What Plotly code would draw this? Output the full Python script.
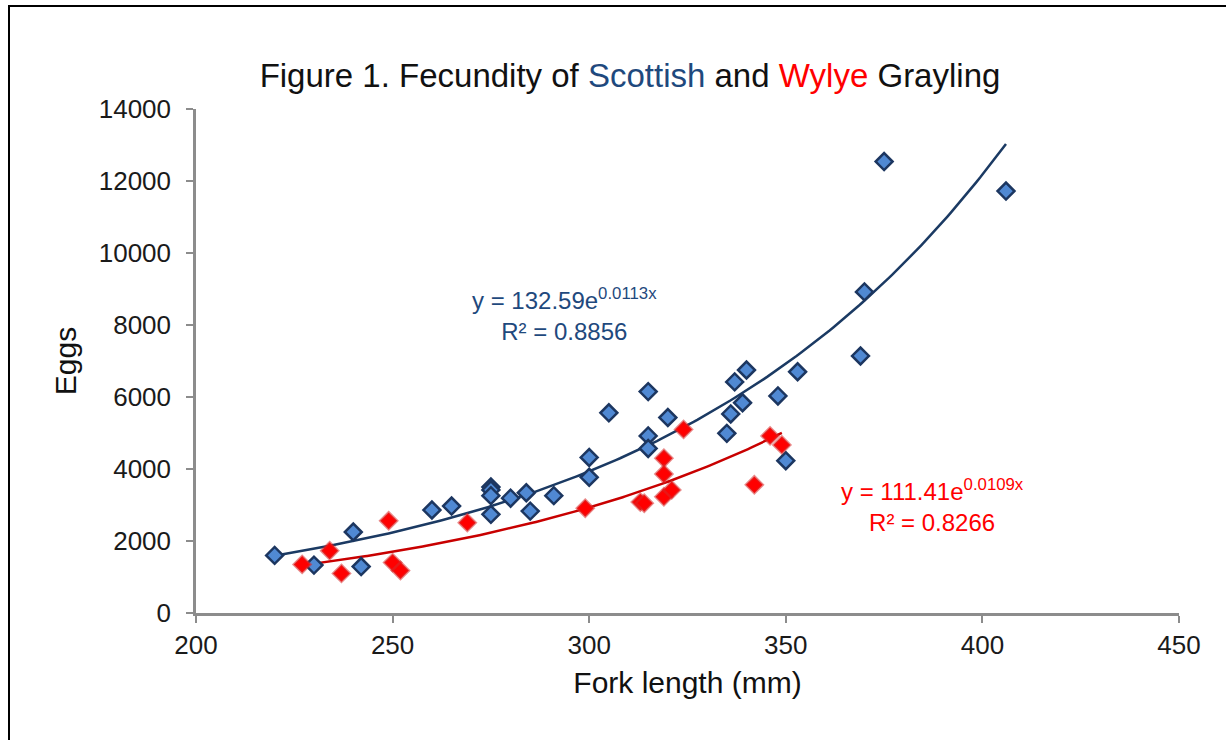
import numpy as np
import plotly.graph_objects as go

# ---- data ----
scot_len = [220, 230, 240, 242, 260, 265, 275, 275, 275, 275, 280, 284, 285, 291,
            300, 300, 305, 315, 315, 315, 320, 335, 336, 339, 337, 340, 348, 353,
            350, 369, 370, 375, 406]
scot_eggs = [1600, 1330, 2250, 1290, 2860, 2970, 3500, 3420, 3260, 2740, 3190, 3340,
             2830, 3260, 3770, 4320, 5560, 6150, 4920, 4570, 5430, 4990, 5530, 5840,
             6420, 6750, 6030, 6700, 4230, 7140, 8920, 12540, 11720]

wylye_len = [227, 234, 237, 249, 250, 252, 269, 299, 313, 314, 319, 319, 319, 321,
             324, 342, 346, 349]
wylye_eggs = [1350, 1730, 1100, 2560, 1400, 1180, 2510, 2910, 3080, 3050, 4300, 3860,
              3230, 3420, 5100, 3560, 4920, 4670]

# exponential trendline coefficients shown on the chart (y = a * e^(b x))
scot_fit = (132.59, 0.0113, 0.8856)
wylye_fit = (111.41, 0.0109, 0.8266)

x_ticks = [200, 250, 300, 350, 400, 450]
y_ticks = [0, 2000, 4000, 6000, 8000, 10000, 12000, 14000]
y_tick_text = ["0", "2000", "4000", "6000", "8000", "10000", "12000", "14000"]

FONT = "Liberation Sans, Arial, sans-serif"
BLUE_TXT = "#1F497D"
BLUE_LINE = "#1B3A63"
BLUE_FILL = "#5089D3"
BLUE_EDGE = "#1C3660"
RED = "#FF0000"
RED_LINE = "#C80000"

fig = go.Figure()

def trend(xs, a, b):
    xx = np.linspace(min(xs), max(xs), 200)
    return xx, a * np.exp(b * xx)

tx, ty = trend(scot_len, scot_fit[0], scot_fit[1])
fig.add_trace(go.Scatter(x=tx, y=ty, mode="lines",
                         line=dict(color=BLUE_LINE, width=2.5), hoverinfo="skip"))
tx2, ty2 = trend(wylye_len, wylye_fit[0], wylye_fit[1])
fig.add_trace(go.Scatter(x=tx2, y=ty2, mode="lines",
                         line=dict(color=RED_LINE, width=2.5), hoverinfo="skip"))

fig.add_trace(go.Scatter(x=scot_len, y=scot_eggs, mode="markers", name="Scottish",
                         marker=dict(symbol="diamond", size=13, color=BLUE_FILL,
                                     line=dict(color=BLUE_EDGE, width=2.5))))
fig.add_trace(go.Scatter(x=wylye_len, y=wylye_eggs, mode="markers", name="Wylye",
                         marker=dict(symbol="diamond", size=13, color=RED,
                                     line=dict(color="rgba(215,40,40,0.55)", width=2.5))))

axis_common = dict(showgrid=False, zeroline=False, showline=True,
                   linecolor="#8C8C8C", linewidth=2.5, ticks="outside",
                   ticklen=7, tickwidth=2, tickcolor="#8C8C8C",
                   tickfont=dict(family=FONT, size=26, color="#1a1a1a"))

fig.update_xaxes(range=[200, 450], tickvals=x_ticks, ticktext=[str(v) for v in x_ticks],
                 title=dict(text="Fork length (mm)", font=dict(family=FONT, size=30, color="#111"),
                            standoff=14), **axis_common)
fig.update_yaxes(range=[0, 14000], tickvals=y_ticks, ticktext=y_tick_text,
                 ticklabelstandoff=10,
                 title=dict(text="Eggs", font=dict(family=FONT, size=30, color="#111"),
                            standoff=14), **axis_common)

fig.add_annotation(x=293.8, y=8280, xref="x", yref="y", showarrow=False,
                   text=f"y = {scot_fit[0]}e<sup>{scot_fit[1]}x</sup><br>R² = {scot_fit[2]}",
                   font=dict(family=FONT, size=24, color=BLUE_TXT), align="center")
fig.add_annotation(x=387.4, y=3000, xref="x", yref="y", showarrow=False,
                   text=f"y = {wylye_fit[0]}e<sup>{wylye_fit[1]}x</sup><br>R² = {wylye_fit[2]}",
                   font=dict(family=FONT, size=24, color=RED), align="center")

W, H = 1226, 740
L, R, T, B = 196, 47, 109, 127
pw, ph = W - L - R, H - T - B
fig.add_shape(type="rect", xref="paper", yref="paper",
              x0=(9 - L) / pw, x1=(1232 - L) / pw,
              y0=(H - B - 746) / ph, y1=(H - B - 6) / ph,
              line=dict(color="#000", width=2), fillcolor="rgba(0,0,0,0)", layer="above")

fig.update_layout(
    width=W, height=H,
    margin=dict(l=L, r=R, t=T, b=B),
    paper_bgcolor="white", plot_bgcolor="white",
    showlegend=False,
    title=dict(text=("Figure 1. Fecundity of <span style='color:%s'>Scottish</span> and "
                     "<span style='color:%s'>Wylye</span> Grayling") % (BLUE_TXT, RED),
               x=630 / W, xanchor="center", xref="container",
               y=1 - 75 / H, yanchor="middle", yref="container",
               font=dict(family=FONT, size=33, color="#111")),
)

fig.write_html("out.html")
